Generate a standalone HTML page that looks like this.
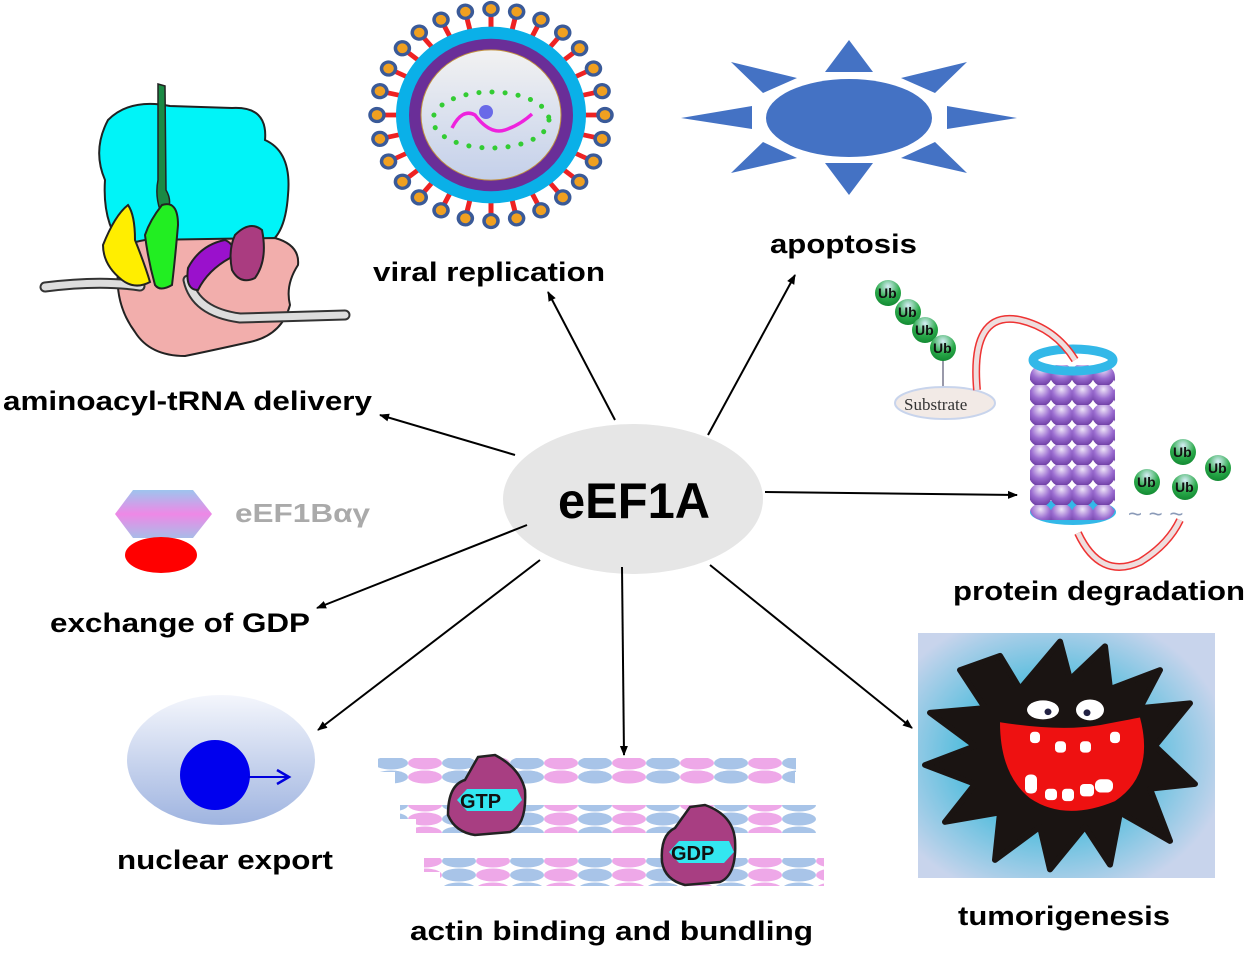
<!DOCTYPE html>
<html><head><meta charset="utf-8"><style>
html,body{margin:0;padding:0;background:#fff;}
svg text{font-family:"Liberation Sans",Arial,sans-serif;font-weight:bold;}
</style></head><body>
<svg width="1250" height="952" viewBox="0 0 1250 952" xmlns="http://www.w3.org/2000/svg">
<defs>
<marker id="ah" markerWidth="10" markerHeight="10" refX="9" refY="5" orient="auto" markerUnits="userSpaceOnUse">
<path d="M0,1 L10,5 L0,9 Z" fill="#000"/></marker>
<linearGradient id="inner" x1="0" y1="0" x2="0" y2="1"><stop offset="0" stop-color="#f2f2f2"/><stop offset="1" stop-color="#c4d0ea"/></linearGradient>
<linearGradient id="hex" x1="0" y1="0" x2="0" y2="1"><stop offset="0" stop-color="#9ec4ee"/><stop offset="0.5" stop-color="#ee88e6"/><stop offset="1" stop-color="#a8bce8"/></linearGradient>
<linearGradient id="nuc" x1="0" y1="0" x2="0" y2="1"><stop offset="0" stop-color="#f4f6fc"/><stop offset="1" stop-color="#9fb4e0"/></linearGradient>
<radialGradient id="tum" cx="45%" cy="50%" r="60%"><stop offset="0.3" stop-color="#2bb5d8"/><stop offset="1" stop-color="#c8d4ec"/></radialGradient>
<radialGradient id="ball" cx="50%" cy="25%" r="75%"><stop offset="0" stop-color="#eee4f8"/><stop offset="0.55" stop-color="#9a6cd0"/><stop offset="1" stop-color="#6a3aa0"/></radialGradient>
<radialGradient id="ub" cx="50%" cy="25%" r="75%"><stop offset="0" stop-color="#d8eef8"/><stop offset="0.6" stop-color="#2aaa4a"/><stop offset="1" stop-color="#138a33"/></radialGradient>
<g id="sp"><line x1="583" y1="118" x2="602" y2="118" stroke="#ee2222" stroke-width="5"/><circle cx="607" cy="118" r="7" fill="#f0a020" stroke="#3a5a98" stroke-width="3.5"/></g>
<pattern id="act" x="0" y="0" width="68" height="14" patternUnits="userSpaceOnUse">
<ellipse cx="17" cy="7" rx="17" ry="6.5" fill="#eea8e8"/><ellipse cx="51" cy="7" rx="17" ry="6.5" fill="#a8c4e8"/></pattern>
<pattern id="act2" x="34" y="0" width="68" height="14" patternUnits="userSpaceOnUse">
<ellipse cx="17" cy="7" rx="17" ry="6.5" fill="#a8c4e8"/><ellipse cx="51" cy="7" rx="17" ry="6.5" fill="#eea8e8"/></pattern>
<pattern id="balls" x="1030" y="365" width="21" height="20" patternUnits="userSpaceOnUse">
<circle cx="10.5" cy="10" r="11.5" fill="url(#ball)"/></pattern>
</defs>

<!-- virus -->
<g transform="translate(491,115) scale(1,0.93) translate(-493,-118)">
<use href="#sp" transform="rotate(0 493 118)"/><use href="#sp" transform="rotate(13 493 118)"/><use href="#sp" transform="rotate(26 493 118)"/><use href="#sp" transform="rotate(39 493 118)"/><use href="#sp" transform="rotate(51 493 118)"/><use href="#sp" transform="rotate(64 493 118)"/><use href="#sp" transform="rotate(77 493 118)"/><use href="#sp" transform="rotate(90 493 118)"/><use href="#sp" transform="rotate(103 493 118)"/><use href="#sp" transform="rotate(116 493 118)"/><use href="#sp" transform="rotate(129 493 118)"/><use href="#sp" transform="rotate(141 493 118)"/><use href="#sp" transform="rotate(154 493 118)"/><use href="#sp" transform="rotate(167 493 118)"/><use href="#sp" transform="rotate(180 493 118)"/><use href="#sp" transform="rotate(193 493 118)"/><use href="#sp" transform="rotate(206 493 118)"/><use href="#sp" transform="rotate(219 493 118)"/><use href="#sp" transform="rotate(231 493 118)"/><use href="#sp" transform="rotate(244 493 118)"/><use href="#sp" transform="rotate(257 493 118)"/><use href="#sp" transform="rotate(270 493 118)"/><use href="#sp" transform="rotate(283 493 118)"/><use href="#sp" transform="rotate(296 493 118)"/><use href="#sp" transform="rotate(309 493 118)"/><use href="#sp" transform="rotate(321 493 118)"/><use href="#sp" transform="rotate(334 493 118)"/><use href="#sp" transform="rotate(347 493 118)"/>
<circle cx="493" cy="118" r="95" fill="#0ab0e8"/>
<circle cx="493" cy="118" r="82" fill="#6a2e98"/>
<circle cx="493" cy="118" r="70" fill="url(#inner)" stroke="#c09040" stroke-width="1"/>
</g>
<ellipse cx="491" cy="120" rx="58" ry="28" fill="none" stroke="#33cc33" stroke-width="5" stroke-dasharray="0.1,13" stroke-linecap="round"/>
<circle cx="486" cy="112" r="7" fill="#6a6ae8"/>
<path d="M452,128 Q462,108 475,115 Q490,135 505,130 Q520,125 532,114" fill="none" stroke="#ee22dd" stroke-width="3.5"/>

<!-- apoptosis -->
<ellipse cx="849" cy="118" rx="83" ry="39" fill="#4472c4"/>
<g fill="#4472c4">
<polygon points="825,72 873,72 849,40"/>
<polygon points="825,163 873,163 849,195"/>
<polygon points="752,106 752,129 681,118"/>
<polygon points="947,106 947,129 1017,118"/>
<polygon points="731,62 797,78 763,93"/>
<polygon points="967,62 901,78 935,93"/>
<polygon points="731,173 797,158 763,142"/>
<polygon points="967,173 901,158 935,142"/>
</g>

<!-- ribosome -->
<path d="M105,180 Q92,150 108,120 Q130,98 170,106 L232,108 Q268,106 265,140 Q292,152 288,195 Q285,240 262,246 L125,250 Q102,225 105,180 Z" fill="#00f4f8" stroke="#222" stroke-width="2"/>
<path d="M118,270 Q112,245 145,240 L275,238 Q300,245 298,265 Q285,285 290,305 Q282,335 250,342 Q205,352 185,356 Q150,356 135,332 Q115,305 118,270 Z" fill="#f2aeac" stroke="#222" stroke-width="2"/>
<path d="M45,287 Q100,280 140,286" fill="none" stroke="#333" stroke-width="11" stroke-linecap="round"/>
<path d="M45,287 Q100,280 140,286" fill="none" stroke="#ddd" stroke-width="7" stroke-linecap="round"/>
<path d="M188,280 Q195,312 240,318 L345,315" fill="none" stroke="#333" stroke-width="11" stroke-linecap="round"/>
<path d="M188,280 Q195,312 240,318 L345,315" fill="none" stroke="#ddd" stroke-width="7" stroke-linecap="round"/>
<path d="M158,84 L165,86 L166,190 Q172,200 168,210 L160,210 Q155,195 158,180 Z" fill="#1a8a44" stroke="#222" stroke-width="1.5"/>
<path d="M103,245 Q115,215 128,205 Q135,215 135,240 Q145,265 150,282 Q135,290 122,280 Q103,265 103,245 Z" fill="#ffee00" stroke="#222" stroke-width="2"/>
<path d="M145,235 Q150,220 162,205 Q178,200 178,225 Q175,260 172,285 Q160,292 155,285 Q148,260 145,235 Z" fill="#22ee22" stroke="#222" stroke-width="2"/>
<path d="M188,268 Q200,245 225,240 Q237,245 230,258 Q208,270 198,290 Q185,290 188,268 Z" fill="#9a11cc" stroke="#222" stroke-width="2"/>
<path d="M235,235 Q250,220 262,230 Q268,260 255,278 Q240,285 232,270 Q228,250 235,235 Z" fill="#aa3c80" stroke="#222" stroke-width="2"/>

<!-- eEF1Bαγ -->
<polygon points="133,490 193,490 212,514 193,538 133,538 115,514" fill="url(#hex)"/>
<ellipse cx="161" cy="555" rx="36" ry="18" fill="#ff0000"/>
<text x="235" y="522" font-size="26" fill="#aaaaaa" textLength="135" lengthAdjust="spacingAndGlyphs">eEF1Bαγ</text>

<!-- nuclear export -->
<ellipse cx="221" cy="760" rx="94" ry="65" fill="url(#nuc)"/>
<circle cx="215" cy="775" r="35" fill="#0000ee"/>
<line x1="248" y1="777" x2="288" y2="777" stroke="#0000dd" stroke-width="2"/>
<path d="M277,770 L289,777 L277,784" fill="none" stroke="#0000dd" stroke-width="2.5"/>

<!-- actin -->
<rect x="378" y="758" width="418" height="14" fill="url(#act)"/>
<rect x="395" y="770" width="400" height="14" fill="url(#act2)"/>
<rect x="400" y="805" width="416" height="14" fill="url(#act)"/>
<rect x="416" y="819" width="400" height="14" fill="url(#act2)"/>
<rect x="424" y="858" width="400" height="14" fill="url(#act)"/>
<rect x="440" y="872" width="384" height="14" fill="url(#act2)"/>
<path d="M478,757 L495,755 Q520,768 525,790 Q527,825 510,832 L475,835 Q455,832 448,815 Q448,785 465,780 Z" fill="#a83e82" stroke="#222" stroke-width="2.5"/>
<polygon points="457,800 467,789 517,789 522,800 512,811 467,811" fill="#33e6f0"/>
<text x="460" y="808" font-size="20" fill="#111">GTP</text>
<path d="M690,807 L705,805 Q733,815 735,840 Q737,875 720,882 L685,885 Q665,880 662,862 Q660,835 675,828 Z" fill="#a83e82" stroke="#222" stroke-width="2.5"/>
<polygon points="669,852 679,841 729,841 734,852 724,863 679,863" fill="#33e6f0"/>
<text x="671" y="860" font-size="20" fill="#111">GDP</text>

<!-- proteasome -->
<ellipse cx="1073" cy="512" rx="43" ry="13" fill="#33b8e8"/>
<rect x="1030" y="365" width="85" height="155" rx="12" fill="url(#balls)"/>
<ellipse cx="1073" cy="360" rx="40" ry="11" fill="none" stroke="#33b8e8" stroke-width="9"/>
<line x1="943" y1="360" x2="943" y2="390" stroke="#99a" stroke-width="2"/>
<ellipse cx="945" cy="403" rx="50" ry="16" fill="#f2eae6" stroke="#c8d4ec" stroke-width="2"/>
<text x="904" y="410" font-size="17" style="font-family:'Liberation Serif',serif;font-weight:normal" fill="#333">Substrate</text>
<path d="M977,390 Q970,310 1020,320 Q1055,328 1075,360" fill="none" stroke="#e33" stroke-width="8"/>
<path d="M977,390 Q970,310 1020,320 Q1055,328 1075,360" fill="none" stroke="#eedede" stroke-width="5"/>
<path d="M1078,533 Q1100,580 1140,562 Q1168,545 1180,520" fill="none" stroke="#e33" stroke-width="8"/>
<path d="M1078,533 Q1100,580 1140,562 Q1168,545 1180,520" fill="none" stroke="#eedede" stroke-width="5"/>
<text x="1128" y="522" font-size="24" fill="#8a9ab8" style="font-weight:normal">~ ~ ~</text>
<g font-size="14" style="font-family:'Liberation Serif',serif;font-weight:normal" fill="#111">
<circle cx="888" cy="293" r="13" fill="url(#ub)"/><text x="878" y="298">Ub</text>
<circle cx="908" cy="312" r="13" fill="url(#ub)"/><text x="898" y="317">Ub</text>
<circle cx="925" cy="330" r="13" fill="url(#ub)"/><text x="915" y="335">Ub</text>
<circle cx="943" cy="348" r="13" fill="url(#ub)"/><text x="933" y="353">Ub</text>
<circle cx="1183" cy="452" r="13" fill="url(#ub)"/><text x="1173" y="457">Ub</text>
<circle cx="1218" cy="468" r="13" fill="url(#ub)"/><text x="1208" y="473">Ub</text>
<circle cx="1147" cy="482" r="13" fill="url(#ub)"/><text x="1137" y="487">Ub</text>
<circle cx="1185" cy="487" r="13" fill="url(#ub)"/><text x="1175" y="492">Ub</text>
</g>

<!-- tumor -->
<rect x="918" y="633" width="297" height="245" fill="url(#tum)"/>
<g transform="matrix(1,0,0,0.95,0,24)">
<path d="M1000,665 L1020,700 L1060,650 L1070,690 L1105,655 L1110,700 L1160,680 L1140,720 L1190,715 L1155,760 L1195,800 L1150,805 L1170,860 L1120,830 L1110,885 L1085,845 L1050,890 L1040,845 L995,880 L1000,830 L945,840 L975,800 L925,780 L975,760 L930,725 L985,720 L960,680 Z" fill="#1a1412" stroke="#1a1412" stroke-width="6" stroke-linejoin="round"/>
<path d="M1000,735 Q1060,745 1100,738 Q1130,732 1140,730 Q1155,790 1115,818 Q1065,840 1030,815 Q1000,790 1000,735 Z" fill="#ee1111"/>
<ellipse cx="1043" cy="722" rx="16" ry="10" fill="#fff"/><circle cx="1048" cy="724" r="3.5" fill="#224"/>
<ellipse cx="1090" cy="722" rx="14" ry="11" fill="#fff"/><circle cx="1087" cy="725" r="3.5" fill="#224"/>
<g fill="#fff"><rect x="1030" y="745" width="10" height="12" rx="4"/><rect x="1055" y="755" width="11" height="12" rx="4"/><rect x="1080" y="755" width="11" height="12" rx="4"/><rect x="1110" y="745" width="10" height="12" rx="4"/><rect x="1025" y="790" width="12" height="20" rx="5"/><rect x="1045" y="805" width="12" height="12" rx="4"/><rect x="1062" y="805" width="12" height="13" rx="4"/><rect x="1080" y="800" width="14" height="13" rx="4"/><rect x="1095" y="795" width="18" height="14" rx="6"/></g>
</g>

<!-- central -->
<ellipse cx="633" cy="499" rx="130" ry="75" fill="#e6e6e6"/>
<text x="634" y="518" font-size="50" text-anchor="middle" fill="#000" textLength="152" lengthAdjust="spacingAndGlyphs">eEF1A</text>

<g stroke="#000" stroke-width="2" marker-end="url(#ah)">
<line x1="615" y1="420" x2="548" y2="292"/>
<line x1="708" y1="435" x2="795" y2="275"/>
<line x1="515" y1="455" x2="380" y2="415"/>
<line x1="765" y1="492" x2="1017" y2="495"/>
<line x1="527" y1="525" x2="317" y2="608"/>
<line x1="540" y1="560" x2="318" y2="730"/>
<line x1="622" y1="567" x2="624" y2="755"/>
<line x1="710" y1="565" x2="912" y2="728"/>
</g>

<g font-size="27" fill="#000">
<text x="373" y="281" textLength="232" lengthAdjust="spacingAndGlyphs">viral replication</text>
<text x="770" y="253" textLength="147" lengthAdjust="spacingAndGlyphs">apoptosis</text>
<text x="3" y="410" textLength="369" lengthAdjust="spacingAndGlyphs">aminoacyl-tRNA delivery</text>
<text x="50" y="632" textLength="260" lengthAdjust="spacingAndGlyphs">exchange of GDP</text>
<text x="953" y="600" textLength="292" lengthAdjust="spacingAndGlyphs">protein degradation</text>
<text x="117" y="869" textLength="216" lengthAdjust="spacingAndGlyphs">nuclear export</text>
<text x="410" y="940" textLength="403" lengthAdjust="spacingAndGlyphs">actin binding and bundling</text>
<text x="958" y="925" textLength="212" lengthAdjust="spacingAndGlyphs">tumorigenesis</text>
</g>
</svg>
</body></html>
